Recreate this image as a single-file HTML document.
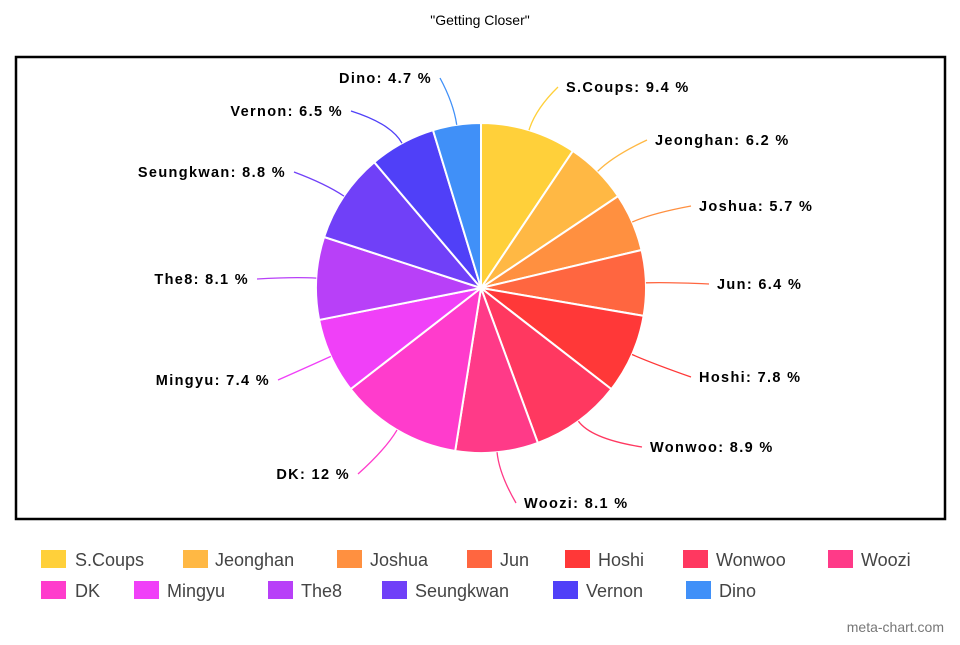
<!DOCTYPE html>
<html><head><meta charset="utf-8"><style>
body{margin:0;background:#fff;width:960px;height:640px;overflow:hidden;font-family:"Liberation Sans",sans-serif}
</style></head><body>
<svg id="s" width="960" height="640" xmlns="http://www.w3.org/2000/svg">
<text x="480" y="25" text-anchor="middle" font-size="14" fill="#000">"Getting Closer"</text>
<rect x="16" y="57" width="929" height="462" fill="#fff" stroke="#000" stroke-width="2.5"/>
<g id="pie"></g><g id="lab"></g><g id="leg"></g>
<text x="944" y="632" text-anchor="end" font-size="14" fill="#777">meta-chart.com</text>
</svg>
<script>
var d=[["S.Coups",9.4,"#ffd03a",566,87,"start"],["Jeonghan",6.2,"#ffb844",655,140,"start"],["Joshua",5.7,"#ff9040",699,206,"start"],["Jun",6.4,"#ff6640",717,284,"start"],["Hoshi",7.8,"#ff3838",699,377,"start"],["Wonwoo",8.9,"#ff3860",650,447,"start"],["Woozi",8.1,"#ff3a88",524,503,"start"],["DK",12,"#ff3ccc",350,474,"end"],["Mingyu",7.4,"#f040f8",270,380,"end"],["The8",8.1,"#b840f8",249,279,"end"],["Seungkwan",8.8,"#7040f8",286,172,"end"],["Vernon",6.5,"#5040f8",343,111,"end"],["Dino",4.7,"#4090f8",432,78,"end"]];
var cx=481,cy=288,r=165,a=0,pie="",lab="",leg="";
function pt(ang,rr){return [cx+rr*Math.sin(ang),cy-rr*Math.cos(ang)];}
d.forEach(function(e){var a0=a,a1=a+e[1]/100*2*Math.PI;a=a1;
var p0=pt(a0,r),p1=pt(a1,r),lg=(a1-a0)>Math.PI?1:0;
pie+='<path d="M'+cx+','+cy+'L'+p0+'A'+r+','+r+' 0 '+lg+' 1 '+p1+'Z" fill="'+e[2]+'" stroke="#fff" stroke-width="2"/>';
var m=(a0+a1)/2,q0=pt(m,r),q1=pt(m,r+22);
var ex=e[5]=="start"?e[3]-8:e[3]+8,ey=e[4];
lab+='<path d="M'+q0+'Q'+q1+' '+ex+','+ey+'" fill="none" stroke="'+e[2]+'" stroke-width="1.3"/>';
lab+='<text x="'+e[3]+'" y="'+(e[4]+5)+'" text-anchor="'+e[5]+'" font-size="14.5" font-weight="bold" letter-spacing="1.35" fill="#000">'+e[0]+': '+e[1]+' %</text>';
});
var L=[[41,75,559],[183,215,559],[337,370,559],[467,500,559],[565,598,559],[683,716,559],[828,861,559],[41,75,590],[134,167,590],[268,301,590],[382,415,590],[553,586,590],[686,719,590]];
d.forEach(function(e,i){var l=L[i];
leg+='<rect x="'+l[0]+'" y="'+(l[2]-9)+'" width="25" height="18" fill="'+e[2]+'"/>';
leg+='<text x="'+l[1]+'" y="'+(l[2]+7)+'" font-size="18" fill="#444">'+e[0]+'</text>';});
document.getElementById("pie").innerHTML=pie;document.getElementById("lab").innerHTML=lab;document.getElementById("leg").innerHTML=leg;
</script>
</body></html>
